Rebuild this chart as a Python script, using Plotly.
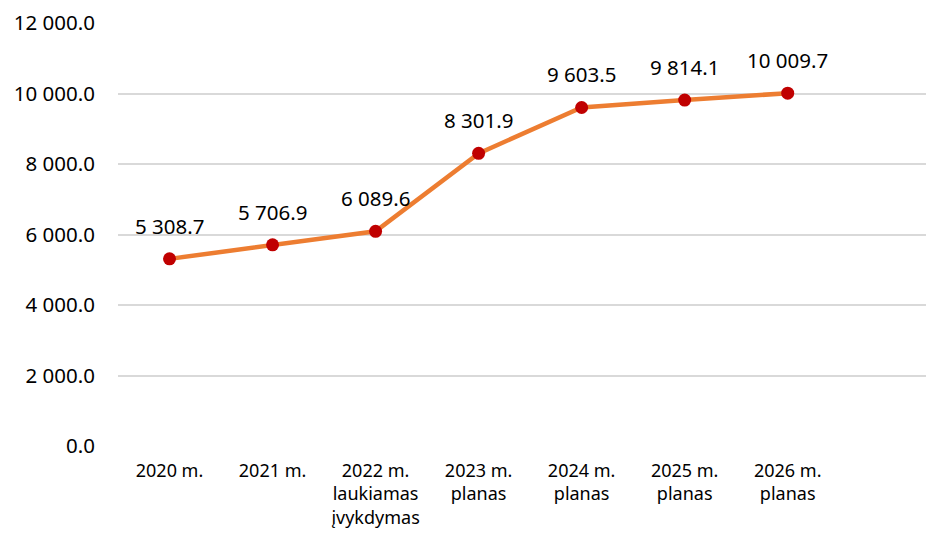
import plotly.graph_objects as go

categories = ["2020 m.", "2021 m.", "2022 m.<br>laukiamas<br>įvykdymas", "2023 m.<br>planas",
              "2024 m.<br>planas", "2025 m.<br>planas", "2026 m.<br>planas"]
values = [5308.7, 5706.9, 6089.6, 8301.9, 9603.5, 9814.1, 10009.7]
y_ticks = [0, 2000, 4000, 6000, 8000, 10000, 12000]

FONT = "Noto Sans"

fig = go.Figure()
fig.add_trace(go.Scatter(
    x=categories, y=values, mode="lines+markers",
    line=dict(color="#ED7D31", width=4.5),
    marker=dict(color="#C00000", size=13),
    hoverinfo="skip", showlegend=False,
))

for c, v in zip(categories, values):
    fig.add_annotation(x=c, y=v, text=f"{v:,.1f}".replace(",", " "), showarrow=False,
                       yshift=33, font=dict(family=FONT, size=20.5, color="#000000"))

fig.update_layout(
    width=926, height=528,
    margin=dict(l=110, r=0, t=15, b=90),
    paper_bgcolor="white", plot_bgcolor="white",
    separators=". ",
    font=dict(family=FONT, color="#000000"),
)
fig.update_xaxes(
    type="category", range=[-0.5, 7.42],
    showgrid=False, zeroline=False, showline=False,
    tickfont=dict(family=FONT, size=18),
    ticks="", ticklabelstandoff=12,
)
fig.update_yaxes(
    range=[0, 12000], tickvals=y_ticks, tickformat=",.1f",
    showgrid=True, gridcolor="#D9D9D9", gridwidth=1.5,
    zeroline=False, showline=False,
    tickfont=dict(family=FONT, size=20.5),
    ticklabelstandoff=22,
)

fig.write_html("out.html")
